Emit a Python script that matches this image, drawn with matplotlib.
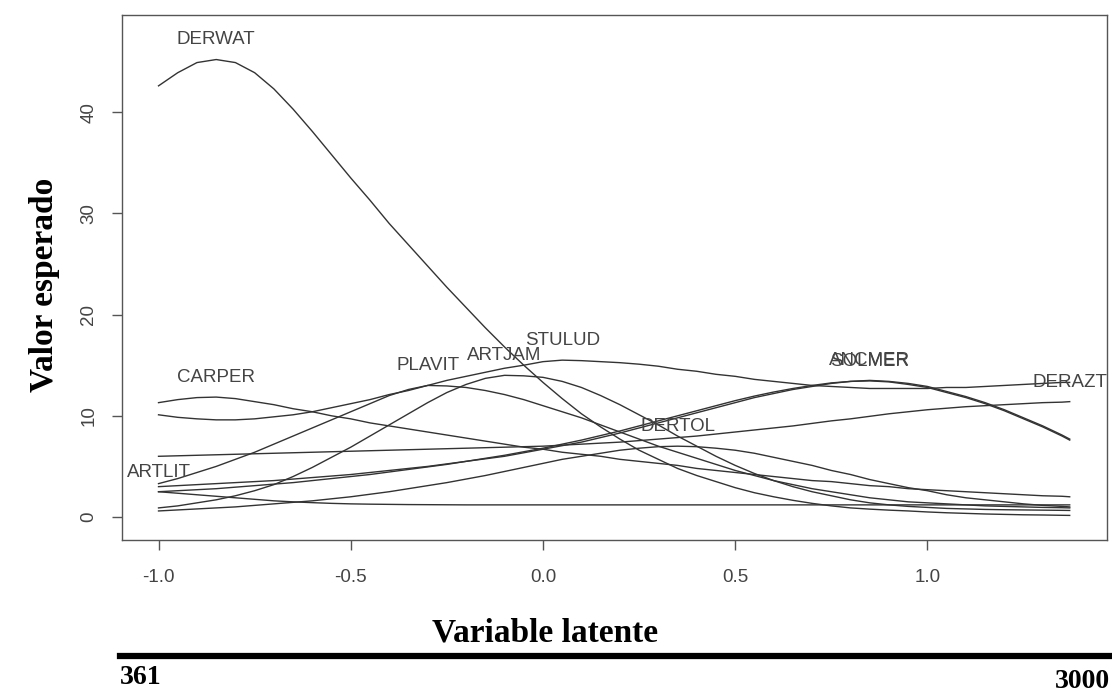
import matplotlib
matplotlib.use("Agg")
import matplotlib.pyplot as plt
import numpy as np

# latent variable grid
latente = [-1.00, -0.95, -0.90, -0.85, -0.80, -0.75, -0.70, -0.65, -0.60, -0.55,
           -0.50, -0.45, -0.40, -0.35, -0.30, -0.25, -0.20, -0.15, -0.10, -0.05,
           0.00, 0.05, 0.10, 0.15, 0.20, 0.25, 0.30, 0.35, 0.40, 0.45,
           0.50, 0.55, 0.60, 0.65, 0.70, 0.75, 0.80, 0.85, 0.90, 0.95,
           1.00, 1.05, 1.10, 1.15, 1.20, 1.25, 1.30, 1.35, 1.37]

derwat = [42.6, 43.9, 44.9, 45.2, 44.9, 43.9, 42.3, 40.3, 38.1, 35.8,
          33.5, 31.3, 29.0, 26.9, 24.8, 22.7, 20.7, 18.7, 16.8, 15.0,
          13.3, 11.7, 10.2, 8.9, 7.7, 6.6, 5.7, 4.8, 4.1, 3.5,
          2.9, 2.4, 2.0, 1.65, 1.35, 1.1, 0.9, 0.78, 0.68, 0.6,
          0.5, 0.42, 0.36, 0.3, 0.26, 0.22, 0.2, 0.17, 0.16]
carper = [11.3, 11.6, 11.8, 11.85, 11.7, 11.4, 11.1, 10.7, 10.4, 10.0,
          9.7, 9.3, 9.0, 8.7, 8.4, 8.1, 7.8, 7.5, 7.2, 6.9,
          6.7, 6.4, 6.2, 6.0, 5.7, 5.5, 5.3, 5.1, 4.8, 4.6,
          4.4, 4.2, 4.0, 3.8, 3.6, 3.5, 3.3, 3.1, 3.0, 2.8,
          2.7, 2.6, 2.5, 2.4, 2.3, 2.2, 2.1, 2.05, 2.0]
stulud = [10.1, 9.85, 9.7, 9.6, 9.6, 9.7, 9.9, 10.1, 10.4, 10.8,
          11.2, 11.6, 12.1, 12.5, 13.0, 13.5, 13.9, 14.3, 14.7, 15.0,
          15.35, 15.5, 15.45, 15.35, 15.25, 15.1, 14.9, 14.6, 14.4, 14.1,
          13.9, 13.6, 13.4, 13.2, 13.0, 12.9, 12.8, 12.7, 12.7, 12.7,
          12.7, 12.8, 12.8, 12.9, 13.0, 13.1, 13.2, 13.3, 13.3]
plavit = [3.3, 3.8, 4.4, 5.0, 5.7, 6.4, 7.2, 8.0, 8.8, 9.6,
          10.4, 11.2, 12.0, 12.6, 13.0, 12.95, 12.8, 12.5, 12.1, 11.6,
          11.0, 10.4, 9.8, 9.1, 8.4, 7.7, 7.0, 6.4, 5.8, 5.2,
          4.6, 4.1, 3.6, 3.2, 2.8, 2.5, 2.2, 1.9, 1.7, 1.5,
          1.4, 1.3, 1.2, 1.1, 1.05, 1.0, 0.95, 0.92, 0.9]
artjam = [0.9, 1.1, 1.4, 1.7, 2.1, 2.6, 3.2, 4.0, 4.9, 5.9,
          6.9, 8.0, 9.1, 10.2, 11.3, 12.3, 13.1, 13.7, 14.0, 13.95,
          13.8, 13.4, 12.8, 12.0, 11.1, 10.1, 9.1, 8.0, 7.0, 6.0,
          5.1, 4.3, 3.6, 3.0, 2.5, 2.1, 1.7, 1.4, 1.2, 1.05,
          0.95, 0.85, 0.8, 0.75, 0.72, 0.7, 0.68, 0.66, 0.65]
dertol = [0.6, 0.7, 0.8, 0.9, 1.0, 1.15, 1.3, 1.45, 1.6, 1.8,
          2.0, 2.25, 2.5, 2.8, 3.1, 3.4, 3.75, 4.1, 4.5, 4.9,
          5.3, 5.7, 6.0, 6.3, 6.6, 6.8, 6.95, 7.0, 6.95, 6.8,
          6.6, 6.3, 5.9, 5.5, 5.1, 4.6, 4.2, 3.7, 3.3, 2.9,
          2.6, 2.2, 1.9, 1.7, 1.5, 1.3, 1.15, 1.05, 1.0]
ancmer = [3.0, 3.1, 3.2, 3.3, 3.4, 3.5, 3.6, 3.75, 3.9, 4.05,
          4.2, 4.4, 4.6, 4.8, 5.0, 5.25, 5.5, 5.75, 6.0, 6.35,
          6.7, 7.05, 7.4, 7.85, 8.3, 8.8, 9.3, 9.8, 10.3, 10.8,
          11.3, 11.8, 12.2, 12.6, 12.9, 13.2, 13.4, 13.5, 13.4, 13.2,
          12.9, 12.4, 11.9, 11.3, 10.6, 9.8, 9.0, 8.1, 7.7]
solmer = [2.5, 2.6, 2.7, 2.8, 2.95, 3.1, 3.25, 3.4, 3.6, 3.8,
          4.0, 4.2, 4.45, 4.7, 4.95, 5.2, 5.5, 5.8, 6.1, 6.45,
          6.8, 7.2, 7.6, 8.05, 8.5, 9.0, 9.5, 10.0, 10.5, 11.0,
          11.5, 11.95, 12.35, 12.7, 13.0, 13.25, 13.4, 13.45, 13.35, 13.1,
          12.8, 12.3, 11.8, 11.2, 10.5, 9.7, 8.9, 8.0, 7.6]
derazt = [6.0, 6.05, 6.1, 6.15, 6.2, 6.25, 6.3, 6.35, 6.4, 6.45,
          6.5, 6.55, 6.6, 6.65, 6.7, 6.75, 6.8, 6.85, 6.9, 6.95,
          7.0, 7.1, 7.2, 7.3, 7.4, 7.55, 7.7, 7.85, 8.0, 8.2,
          8.4, 8.6, 8.8, 9.0, 9.25, 9.5, 9.7, 9.95, 10.2, 10.4,
          10.6, 10.75, 10.9, 11.0, 11.1, 11.2, 11.3, 11.35, 11.4]
artlit = [2.5, 2.35, 2.2, 2.05, 1.9, 1.75, 1.6, 1.5, 1.42, 1.35,
          1.3, 1.27, 1.25, 1.23, 1.22, 1.21, 1.2, 1.2, 1.2, 1.2,
          1.2, 1.2, 1.2, 1.2, 1.2, 1.2, 1.2, 1.2, 1.2, 1.2,
          1.2, 1.2, 1.2, 1.2, 1.2, 1.2, 1.2, 1.2, 1.2, 1.2,
          1.2, 1.2, 1.2, 1.2, 1.2, 1.2, 1.2, 1.2, 1.2]

especies = ["DERWAT", "CARPER", "STULUD", "PLAVIT", "ARTJAM", "DERTOL",
            "ANCMER", "SOLMER", "DERAZT", "ARTLIT"]
curvas = [derwat, carper, stulud, plavit, artjam, dertol, ancmer, solmer, derazt, artlit]

gris = "#555555"

fig = plt.figure(figsize=(11.12, 6.92), dpi=100)
ax = fig.add_axes([122/1112, 1 - 540/692, (1107-122)/1112, (540-15)/692])

for nombre, y in zip(especies, curvas):
    ax.plot(latente, y, color="#333333", lw=1.0)
    # label sits just above the curve maximum
    i = int(np.argmax(y))
    ax.text(latente[i], y[i] + 1.1, nombre, ha="center", va="bottom",
            fontsize=13.5, color="#444444", family="Liberation Sans", clip_on=False)

ax.set_xlim(-1.095, 1.467)
ax.set_ylim(-2.27, 49.6)
ax.set_xticks([-1.0, -0.5, 0.0, 0.5, 1.0])
ax.set_xticklabels(["-1.0", "-0.5", "0.0", "0.5", "1.0"])
ax.set_yticks([0, 10, 20, 30, 40])
ax.set_yticklabels(["0", "10", "20", "30", "40"], rotation=90, va="center")
for s in ax.spines.values():
    s.set_color(gris)
    s.set_linewidth(1.0)
ax.tick_params(direction="out", length=7.2, width=1, color=gris, labelcolor="#444444",
               labelsize=13.5)
ax.tick_params(axis="x", pad=14)
ax.tick_params(axis="y", pad=10.5)
for lab in ax.get_xticklabels() + ax.get_yticklabels():
    lab.set_family("Liberation Sans")

serif = dict(family="Liberation Serif", fontweight="bold", color="black")
fig.text(545/1112, 1 - 633/692, "Variable latente", ha="center", va="center", fontsize=24, **serif)
fig.text(45/1112, 1 - 285/692, "Valor esperado", ha="center", va="center", rotation=90,
         fontsize=24, **serif)
fig.add_artist(plt.Line2D([120/1112, 1.0], [1 - 656/692, 1 - 656/692], color="black", lw=4.5))
fig.text(120/1112, 1 - 678/692, "361", ha="left", va="center", fontsize=20, **serif)
fig.text(1110/1112, 1 - 681/692, "3000", ha="right", va="center", fontsize=20, **serif)

fig.savefig("out.png", dpi=100)
